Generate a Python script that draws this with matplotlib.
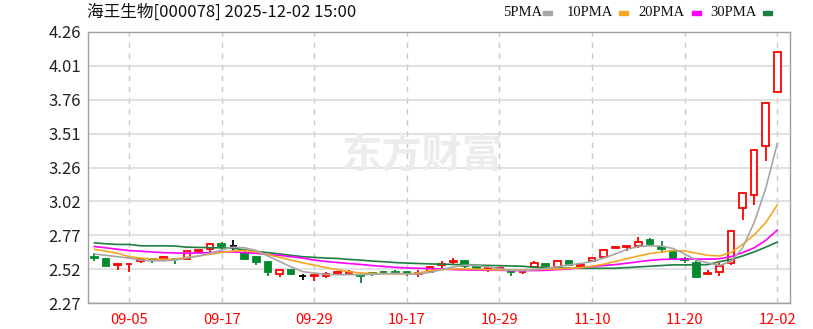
import matplotlib
matplotlib.use('Agg')
import matplotlib.pyplot as plt
from matplotlib.patches import Rectangle
import numpy as np

plt.rcParams['font.family'] = ['Noto Sans CJK SC', 'DejaVu Sans']

# daily candles 2025-09-02 .. 2025-12-02
dates = ['09-02', '09-03', '09-04', '09-05', '09-08', '09-09', '09-10', '09-11', '09-12', '09-15',
         '09-16', '09-17', '09-18', '09-19', '09-22', '09-23', '09-24', '09-25', '09-26', '09-29',
         '09-30', '10-09', '10-10', '10-13', '10-14', '10-15', '10-16', '10-17', '10-20', '10-21',
         '10-22', '10-23', '10-24', '10-27', '10-28', '10-29', '10-30', '10-31', '11-03', '11-04',
         '11-05', '11-06', '11-07', '11-10', '11-11', '11-12', '11-13', '11-14', '11-17', '11-18',
         '11-19', '11-20', '11-21', '11-24', '11-25', '11-26', '11-27', '11-28', '12-01', '12-02']
opens = [2.61, 2.59, 2.55, 2.555, 2.58, 2.595, 2.59, 2.595, 2.59, 2.655,
         2.67, 2.70, 2.69, 2.64, 2.61, 2.57, 2.485, 2.51, 2.465, 2.47,
         2.47, 2.48, 2.485, 2.475, 2.49, 2.50, 2.50, 2.495, 2.485, 2.50,
         2.55, 2.57, 2.58, 2.535, 2.52, 2.52, 2.505, 2.495, 2.535, 2.555,
         2.535, 2.575, 2.535, 2.575, 2.61, 2.675, 2.68, 2.685, 2.73, 2.68,
         2.655, 2.59, 2.565, 2.485, 2.50, 2.565, 2.97, 3.06, 3.42, 3.82]
highs = [2.64, 2.60, 2.56, 2.56, 2.59, 2.60, 2.612, 2.595, 2.655, 2.66,
         2.70, 2.72, 2.73, 2.67, 2.615, 2.575, 2.515, 2.515, 2.485, 2.475,
         2.50, 2.505, 2.51, 2.475, 2.50, 2.505, 2.51, 2.50, 2.51, 2.54,
         2.58, 2.60, 2.585, 2.545, 2.54, 2.53, 2.51, 2.50, 2.575, 2.565,
         2.578, 2.578, 2.56, 2.602, 2.665, 2.685, 2.685, 2.755, 2.745, 2.725,
         2.66, 2.61, 2.58, 2.51, 2.565, 2.80, 3.08, 3.40, 3.74, 4.11]
lows = [2.58, 2.54, 2.51, 2.50, 2.565, 2.565, 2.585, 2.56, 2.585, 2.64,
        2.645, 2.665, 2.66, 2.59, 2.55, 2.465, 2.46, 2.478, 2.44, 2.43,
        2.45, 2.475, 2.48, 2.42, 2.47, 2.49, 2.488, 2.47, 2.46, 2.495,
        2.52, 2.55, 2.53, 2.51, 2.50, 2.515, 2.465, 2.48, 2.53, 2.535,
        2.53, 2.548, 2.53, 2.57, 2.605, 2.672, 2.655, 2.675, 2.69, 2.635,
        2.588, 2.565, 2.45, 2.475, 2.47, 2.55, 2.88, 2.99, 3.31, 3.82]
closes = [2.60, 2.545, 2.555, 2.56, 2.59, 2.585, 2.61, 2.59, 2.65, 2.66,
          2.70, 2.69, 2.69, 2.595, 2.57, 2.50, 2.51, 2.48, 2.465, 2.475,
          2.48, 2.50, 2.495, 2.47, 2.485, 2.495, 2.49, 2.49, 2.49, 2.535,
          2.56, 2.575, 2.545, 2.53, 2.525, 2.525, 2.50, 2.50, 2.565, 2.54,
          2.575, 2.55, 2.55, 2.60, 2.66, 2.68, 2.685, 2.72, 2.705, 2.665,
          2.59, 2.585, 2.46, 2.49, 2.54, 2.80, 3.08, 3.39, 3.74, 4.11]

# moving averages
ma5 = [2.63, 2.62, 2.61, 2.60, 2.585, 2.58, 2.58, 2.585, 2.60, 2.615,
       2.635, 2.66, 2.68, 2.675, 2.655, 2.615, 2.575, 2.535, 2.50, 2.49,
       2.48, 2.477, 2.478, 2.478, 2.48, 2.485, 2.487, 2.485, 2.483, 2.495,
       2.515, 2.535, 2.548, 2.545, 2.535, 2.522, 2.51, 2.508, 2.515, 2.525,
       2.535, 2.55, 2.56, 2.575, 2.60, 2.63, 2.663, 2.685, 2.69, 2.688,
       2.67, 2.63, 2.585, 2.565, 2.545, 2.575, 2.675, 2.86, 3.11, 3.44]
ma10 = [2.665, 2.65, 2.635, 2.61, 2.60, 2.593, 2.59, 2.593, 2.605, 2.615,
        2.628, 2.642, 2.652, 2.655, 2.645, 2.625, 2.605, 2.585, 2.565, 2.548,
        2.53, 2.515, 2.50, 2.49, 2.487, 2.485, 2.484, 2.483, 2.49, 2.508,
        2.515, 2.52, 2.52, 2.518, 2.515, 2.513, 2.512, 2.512, 2.515, 2.518,
        2.52, 2.525, 2.53, 2.54, 2.555, 2.575, 2.595, 2.615, 2.633, 2.645,
        2.655, 2.652, 2.636, 2.62, 2.615, 2.64, 2.70, 2.77, 2.86, 2.99]
ma20 = [2.685, 2.675, 2.665, 2.655, 2.65, 2.645, 2.64, 2.637, 2.636, 2.637,
        2.64, 2.645, 2.645, 2.64, 2.635, 2.625, 2.62, 2.61, 2.60, 2.585,
        2.575, 2.567, 2.56, 2.553, 2.545, 2.538, 2.532, 2.528, 2.525, 2.522,
        2.52, 2.515, 2.513, 2.512, 2.511, 2.51, 2.508, 2.508, 2.508, 2.51,
        2.515, 2.52, 2.53, 2.538, 2.545, 2.552, 2.562, 2.573, 2.583, 2.59,
        2.592, 2.593, 2.593, 2.592, 2.595, 2.61, 2.64, 2.675, 2.73, 2.805]
ma30 = [2.712, 2.705, 2.70, 2.70, 2.69, 2.69, 2.69, 2.688, 2.68, 2.678,
        2.676, 2.675, 2.672, 2.66, 2.648, 2.64, 2.63, 2.62, 2.61, 2.605,
        2.60, 2.597, 2.59, 2.585, 2.578, 2.573, 2.567, 2.563, 2.56, 2.557,
        2.555, 2.553, 2.55, 2.548, 2.546, 2.544, 2.542, 2.54, 2.532, 2.53,
        2.527, 2.526, 2.525, 2.525, 2.525, 2.525, 2.53, 2.535, 2.54, 2.545,
        2.55, 2.55, 2.55, 2.552, 2.573, 2.59, 2.615, 2.645, 2.68, 2.717]

tick_dates = ['09-05', '09-17', '09-29', '10-17', '10-29', '11-10', '11-20', '12-02']
y_labels = ['2.27', '2.52', '2.77', '3.02', '3.26', '3.51', '3.76', '4.01', '4.26']

up_color = '#ff0000'
down_color = '#008a2e'
flat_color = '#000000'

fig = plt.figure(figsize=(8.13, 3.29), dpi=100)
ax = fig.add_axes([88/813, 26/329, 702/813, 271/329])

# watermark
fig.text(422/813, 1 - 156/329, '东方财富', fontsize=29, fontweight='bold',
         color='#ececec', ha='center', va='center', zorder=0)

x = np.arange(len(dates))
half = 0.29
for i in x:
    o, h, l, c = opens[i], highs[i], lows[i], closes[i]
    if c > o:
        col = up_color
        face = 'white'
    elif c < o:
        col = down_color
        face = down_color
    else:
        col = flat_color
        face = flat_color
    ax.vlines(i, l, h, color=col, lw=1.3, zorder=2)
    if c == o:
        ax.hlines(o, i - half, i + half, color=col, lw=1.3, zorder=3)
    else:
        ax.add_patch(Rectangle((i - half, min(o, c)), 2 * half, abs(c - o),
                               facecolor=face, edgecolor=col, lw=1.3, zorder=3))

ax.plot(x, ma30, color='#1d7f3f', lw=1.2, zorder=4)
ax.plot(x, ma20, color='#ff00ff', lw=1.2, zorder=4)
ax.plot(x, ma10, color='#f5a623', lw=1.2, zorder=4)
ax.plot(x, ma5, color='#a6a6a6', lw=1.2, zorder=4)

ax.set_xlim(-0.55, 60.1)
ax.set_ylim(2.27, 4.26)

yt = np.linspace(2.27, 4.26, len(y_labels))
ax.set_yticks(yt)
ax.set_yticklabels(y_labels)
xt = [dates.index(d) for d in tick_dates]
ax.set_xticks(xt)
ax.set_xticklabels(tick_dates)

ax.grid(axis='y', color='#d9d9d9', lw=1.1, zorder=0)
ax.grid(axis='x', color='#c8c8c8', lw=1.0, ls=(0, (4, 4)), zorder=0)
ax.set_axisbelow(True)

ax.tick_params(axis='y', length=0, pad=5, labelsize=12, labelcolor='#222222')
ax.tick_params(axis='x', length=0, pad=7, labelsize=10.5, labelcolor='#ff0000')
for s in ax.spines.values():
    s.set_color('#a0a0a0')
    s.set_linewidth(1.0)

# header
fig.text(87/813, 1 - 12/329, '海王生物[000078] 2025-12-02 15:00', fontsize=12,
         ha='left', va='center', color='#111111')

legend_items = [('5PMA', 503, 543, '#a6a6a6'),
                ('10PMA', 567, 619, '#f5a623'),
                ('20PMA', 638, 692, '#ff00ff'),
                ('30PMA', 710, 763, '#1d7f3f')]
for name, tx, bx, col in legend_items:
    fig.text(tx/813, 1 - 13/329, name, fontsize=10.5, family='Liberation Serif',
             ha='left', va='center', color='#111111')
    fig.add_artist(Rectangle((bx/813, 1 - 15/329), 9/813, 4/329,
                             transform=fig.transFigure, color=col))

fig.savefig('out.png', dpi=100)
